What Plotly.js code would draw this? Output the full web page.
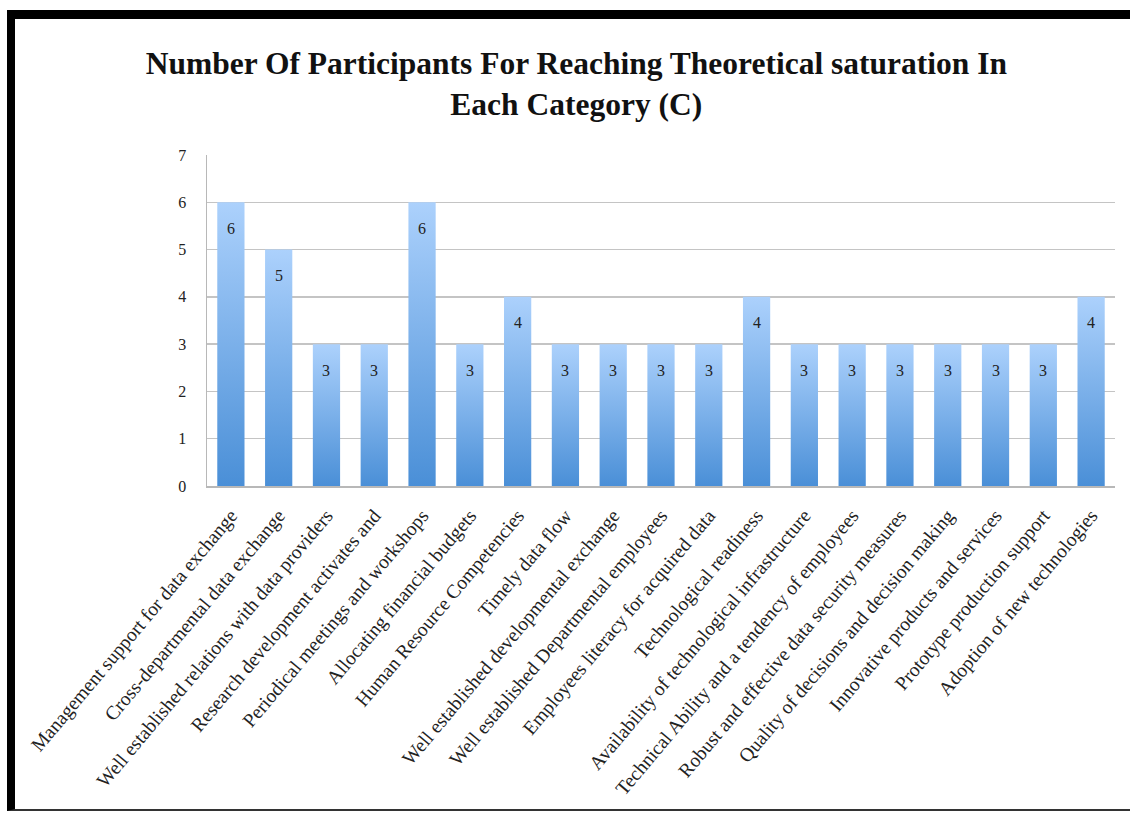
<!DOCTYPE html>
<html>
<head>
<meta charset="utf-8">
<script src="https://cdn.plot.ly/plotly-3.0.1.min.js"></script>
<style>
  html, body { margin: 0; padding: 0; background: #ffffff; }
  #wrap { position: relative; width: 1130px; height: 814px; overflow: hidden; }
  #chart { position: absolute; left: 0; top: 0; width: 1130px; height: 814px; }
  #frame {
    position: absolute; left: 7px; top: 10px; width: 1140px; height: 801px;
    border-top: 9px solid #000; border-left: 8px solid #000; border-bottom: 2px solid #333;
    box-sizing: border-box; pointer-events: none;
  }
</style>
</head>
<body>
<div id="wrap">
  <div id="chart"></div>
  <div id="frame"></div>
</div>
<script>
// Categories and the number of participants needed to reach saturation
const categories = [
  "Management support for data exchange",
  "Cross-departmental data exchange",
  "Well established relations with data providers",
  "Research development activates and",
  "Periodical meetings and workshops",
  "Allocating financial budgets",
  "Human Resource Competencies",
  "Timely data flow",
  "Well established developmental exchange",
  "Well established Departmental employees",
  "Employees literacy for acquired data",
  "Technological readiness",
  "Availability of technological infrastructure",
  "Technical Ability and a tendency of employees",
  "Robust and effective data security measures",
  "Quality of decisions and decision making",
  "Innovative products and services",
  "Prototype production support",
  "Adoption of new technologies"
];
const participants = [6, 5, 3, 3, 6, 3, 4, 3, 3, 3, 3, 4, 3, 3, 3, 3, 3, 3, 4];
const yTicks = [0, 1, 2, 3, 4, 5, 6, 7];

const serif = "Liberation Serif, Times New Roman, serif";

const trace = {
  type: "bar",
  x: categories,
  y: participants,
  marker: { color: "#7fb2ea", line: { width: 0 } },
  hoverinfo: "x+y"
};

// value labels sit just inside the top of each bar
const labels = categories.map((c, i) => ({
  x: c, y: participants[i], xref: "x", yref: "y",
  text: String(participants[i]), showarrow: false,
  yshift: -26, font: { family: serif, size: 16, color: "#222" }
}));

const layout = {
  width: 1130, height: 814,
  paper_bgcolor: "#ffffff", plot_bgcolor: "#ffffff",
  margin: { l: 207, r: 15, t: 155, b: 328 },
  title: {
    text: "Number Of Participants For Reaching Theoretical saturation In<br>Each Category (C)",
    font: { family: serif, size: 31.5, color: "#111", weight: "bold" },
    xref: "container", x: 0.51, xanchor: "center",
    yref: "container", y: 1 - 74 / 814, yanchor: "top"
  },
  bargap: 0.43,
  showlegend: false,
  xaxis: {
    type: "category",
    tickangle: -50,
    tickfont: { family: serif, size: 19.5, color: "#222" },
    showline: true, linecolor: "#b8b8b8", linewidth: 1.5,
    ticks: "", ticklabelstandoff: 9,
    showgrid: false, fixedrange: true
  },
  yaxis: {
    range: [0, 7],
    tickvals: yTicks,
    tickfont: { family: serif, size: 16, color: "#222" },
    showline: true, linecolor: "#b8b8b8", linewidth: 1.5,
    showgrid: true, gridcolor: "#c4c4c4", gridwidth: 1.5,
    zeroline: false, ticks: "", ticklabelstandoff: 16, fixedrange: true
  },
  annotations: labels
};

// vertical light-to-dark blue fill applied to every bar
function applyGradient(gd) {
  const ns = "http://www.w3.org/2000/svg";
  const svg = gd.querySelector("svg.main-svg");
  let defs = svg.querySelector("defs");
  if (!defs) { defs = document.createElementNS(ns, "defs"); svg.insertBefore(defs, svg.firstChild); }
  const lg = document.createElementNS(ns, "linearGradient");
  lg.setAttribute("id", "barFill");
  lg.setAttribute("x1", "0"); lg.setAttribute("y1", "0");
  lg.setAttribute("x2", "0"); lg.setAttribute("y2", "1");
  [["0", "#acd1fc"], ["1", "#4a8fd7"]].forEach(([o, c]) => {
    const s = document.createElementNS(ns, "stop");
    s.setAttribute("offset", o); s.setAttribute("stop-color", c);
    lg.appendChild(s);
  });
  defs.appendChild(lg);
  gd.querySelectorAll(".barlayer .point path").forEach(p => { p.style.fill = "url(#barFill)"; });
}

Plotly.newPlot("chart", [trace], layout, { displayModeBar: false, staticPlot: true })
  .then(applyGradient);
</script>
</body>
</html>
